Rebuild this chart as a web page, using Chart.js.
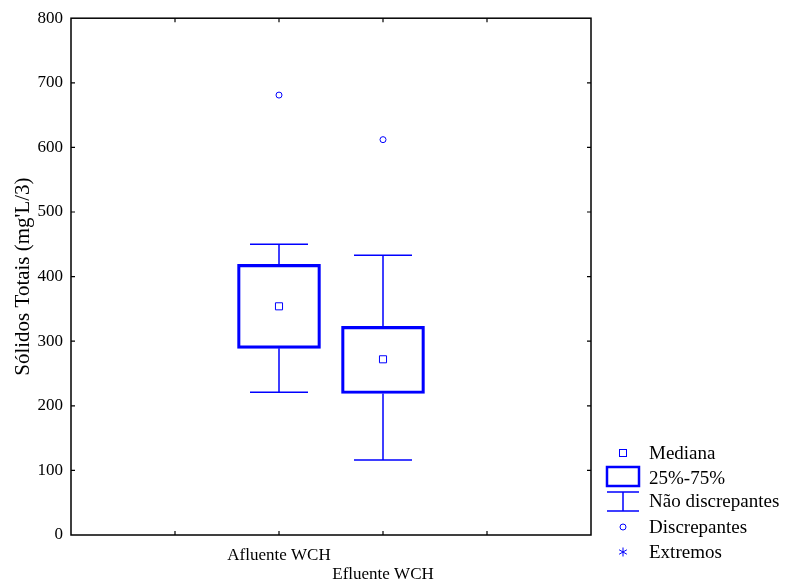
<!DOCTYPE html>
<html><head><meta charset="utf-8">
<script src="https://cdn.jsdelivr.net/npm/chart.js@4/dist/chart.umd.min.js"></script>
<style>html,body{margin:0;padding:0;background:#fff;}#wrap{width:785px;height:582px;position:relative;}</style>
</head><body><div id="wrap"><canvas id="c" width="785" height="582"></canvas></div>
<script>
// ---- data ----
const categories = ['Afluente WCH', 'Efluente WCH'];
const xPositions = [2, 3];
const medians = [354, 272];
const q1 = [289, 219];
const q3 = [419, 323];
const whiskerLow = [221, 116];
const whiskerHigh = [450, 433];
const outliers = [681, 612];
const yTicks = [0, 100, 200, 300, 400, 500, 600, 700, 800];
const legendLabels = ['Mediana', '25%-75%', 'Não discrepantes', 'Discrepantes', 'Extremos'];

const BLUE = '#0000ff';
const FONT = '"Liberation Serif", "Times New Roman", serif';

const framePlugin = {
  id: 'frame',
  afterDatasetsDraw(chart) {
    const ctx = chart.ctx, xs = chart.scales.x, ys = chart.scales.y;
    ctx.save();
    ctx.strokeStyle = BLUE; ctx.lineWidth = 1.5;
    for (let i = 0; i < xPositions.length; i++) {
      const cx = xs.getPixelForValue(xPositions[i]);
      const half = 29;
      const yl = ys.getPixelForValue(whiskerLow[i]);
      const yh = ys.getPixelForValue(whiskerHigh[i]);
      const y1 = ys.getPixelForValue(q1[i]);
      const y3 = ys.getPixelForValue(q3[i]);
      ctx.beginPath();
      ctx.moveTo(cx, y3); ctx.lineTo(cx, yh);
      ctx.moveTo(cx - half, yh); ctx.lineTo(cx + half, yh);
      ctx.moveTo(cx, y1); ctx.lineTo(cx, yl);
      ctx.moveTo(cx - half, yl); ctx.lineTo(cx + half, yl);
      ctx.stroke();
    }
    ctx.restore();
  },
  afterDraw(chart) {
    const ctx = chart.ctx, a = chart.chartArea, xs = chart.scales.x, ys = chart.scales.y;
    ctx.save();
    ctx.strokeStyle = '#000'; ctx.lineWidth = 1.5;
    ctx.strokeRect(a.left, a.top, a.right - a.left, a.bottom - a.top);
    ctx.lineWidth = 1.2;
    ctx.beginPath();
    [1, 2, 3, 4].forEach(v => {
      const x = xs.getPixelForValue(v);
      ctx.moveTo(x, a.bottom); ctx.lineTo(x, a.bottom - 4);
      ctx.moveTo(x, a.top); ctx.lineTo(x, a.top + 4);
    });
    yTicks.slice(1, -1).forEach(v => {
      const y = ys.getPixelForValue(v);
      ctx.moveTo(a.left, y); ctx.lineTo(a.left + 4, y);
      ctx.moveTo(a.right, y); ctx.lineTo(a.right - 4, y);
    });
    ctx.stroke();

    // legend
    const sx = 623, tx = 649;
    const rows = [453, 478, 501, 527, 552];
    ctx.fillStyle = '#000';
    ctx.font = '19px ' + FONT;
    ctx.textBaseline = 'middle';
    ctx.textAlign = 'left';
    legendLabels.forEach((t, i) => ctx.fillText(t, tx, rows[i] + 1));
    ctx.strokeStyle = BLUE;
    ctx.lineWidth = 1;
    ctx.strokeRect(sx - 3.5, rows[0] - 3.5, 7, 7);
    ctx.lineWidth = 2.5;
    ctx.strokeRect(607, 467, 32, 19);
    ctx.lineWidth = 1.5;
    ctx.beginPath();
    ctx.moveTo(607, 492); ctx.lineTo(639, 492);
    ctx.moveTo(607, 511); ctx.lineTo(639, 511);
    ctx.moveTo(sx, 492); ctx.lineTo(sx, 511);
    ctx.stroke();
    ctx.lineWidth = 1;
    ctx.beginPath(); ctx.arc(sx, rows[3], 3, 0, Math.PI * 2); ctx.stroke();
    ctx.beginPath();
    for (let k = 0; k < 3; k++) {
      const ang = Math.PI / 2 + k * Math.PI / 3;
      ctx.moveTo(sx + 4.5 * Math.cos(ang), rows[4] + 4.5 * Math.sin(ang));
      ctx.lineTo(sx - 4.5 * Math.cos(ang), rows[4] - 4.5 * Math.sin(ang));
    }
    ctx.stroke();
    ctx.restore();
  }
};

new Chart(document.getElementById('c'), {
  type: 'bar',
  data: {
    datasets: [
      {
        type: 'bar',
        data: xPositions.map((x, i) => ({ x: x, y: [q1[i], q3[i]] })),
        backgroundColor: 'rgba(0,0,0,0)',
        borderColor: BLUE,
        borderWidth: 2.5,
        borderSkipped: false,
        barThickness: 83,
        order: 2
      },
      {
        type: 'scatter',
        data: xPositions.map((x, i) => ({ x: x, y: medians[i] })),
        pointStyle: 'rect',
        radius: 5,
        borderColor: BLUE,
        borderWidth: 1,
        backgroundColor: 'rgba(0,0,0,0)',
        order: 1
      },
      {
        type: 'scatter',
        data: xPositions.map((x, i) => ({ x: x, y: outliers[i] })),
        pointStyle: 'circle',
        radius: 3,
        borderColor: BLUE,
        borderWidth: 1,
        backgroundColor: 'rgba(0,0,0,0)',
        order: 1
      }
    ]
  },
  options: {
    responsive: false,
    animation: false,
    layout: { padding: { top: 16, right: 194, left: 0, bottom: 0 } },
    plugins: { legend: { display: false }, tooltip: { enabled: false } },
    scales: {
      x: {
        type: 'linear',
        offset: false,
        min: 0, max: 5,
        grid: { display: false, drawTicks: false, offset: false },
        border: { display: false },
        afterFit: s => { s.height = 47; },
        afterBuildTicks: s => { s.ticks = [0, 1, 2, 3, 4, 5].map(v => ({ value: v })); },
        ticks: {
          padding: 11,
          color: '#000',
          maxRotation: 0,
          autoSkip: false,
          font: { family: FONT, size: 17, lineHeight: 1.12 },
          callback: v => {
            const i = xPositions.indexOf(v);
            if (i < 0) return '';
            return i === 0 ? [categories[i]] : ['', categories[i]];
          }
        }
      },
      y: {
        min: 0, max: 800,
        grid: { display: false, drawTicks: false },
        border: { display: false },
        afterFit: s => { s.width = 71; },
        afterBuildTicks: s => { s.ticks = yTicks.map(v => ({ value: v })); },
        ticks: { padding: 8, color: '#000', font: { family: FONT, size: 17 } },
        title: {
          display: true,
          text: "Sólidos Totais (mg'L/3)",
          color: '#000',
          font: { family: FONT, size: 21 },
          padding: { top: 11, bottom: 0 }
        }
      }
    }
  },
  plugins: [framePlugin]
});
</script></body></html>
